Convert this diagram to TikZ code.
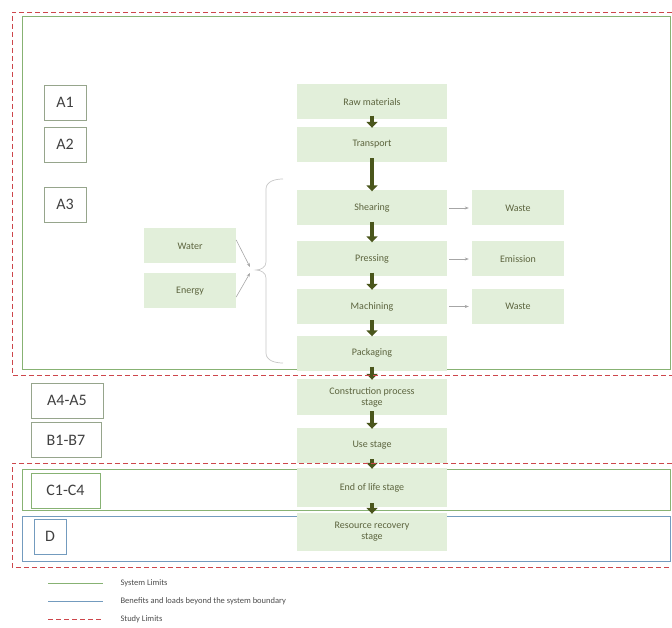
\documentclass[tikz,border=0pt]{standalone}
\usepackage{fontspec}
\setmainfont{Carlito}
\usetikzlibrary{arrows.meta}
\definecolor{boxfill}{RGB}{226,239,218}
\definecolor{boxtext}{RGB}{92,100,62}
\definecolor{flowcol}{RGB}{74,86,28}
\definecolor{syscol}{RGB}{135,178,115}
\definecolor{benefcol}{RGB}{115,155,190}
\definecolor{studycol}{RGB}{205,70,75}
\definecolor{tagcol}{RGB}{150,165,140}

\begin{document}
\begin{tikzpicture}[x=1pt, y=-1pt,
    stage/.style={fill=boxfill, text=boxtext, font=\fontsize{10}{11}\selectfont,
        minimum width=150pt, minimum height=35pt, align=center, inner sep=1pt},
    side/.style={stage, minimum width=92pt},
    tag/.style={draw=tagcol, line width=0.6pt, font=\fontsize{16}{18}\selectfont,
        text=black!75, minimum height=35pt, inner sep=3pt},
    flow/.style={draw=flowcol, line width=4pt, -{Triangle[width=11pt,length=6pt]}},
    sidearrow/.style={draw=gray!70, line width=0.6pt, -{Stealth[length=4pt]}},
    sysline/.style={draw=syscol, line width=0.8pt},
    benefline/.style={draw=benefcol, line width=0.8pt},
    studyline/.style={draw=studycol, line width=0.9pt, dash pattern=on 5pt off 3pt}]
    \useasboundingbox (0,0) rectangle (672,628);

    % system limits and beyond
    \draw[sysline] (22,16) rectangle (670,369);
    \draw[sysline] (22,469) rectangle (670,510);
    \draw[benefline] (22,516) rectangle (670,561);

    % brace
    \draw[gray!45, line width=0.7pt] (283,179) to[out=180,in=90] (266,189) -- (266,262)
        to[out=-90,in=0] (256,270) to[out=0,in=90] (266,278) -- (266,353)
        to[out=-90,in=180] (283,363);
    \coordinate (inW) at (250,267);
    \coordinate (inE) at (250,273);

    % stages
    \node(raw)[stage] at (372,102) {Raw materials};
    \node(trans)[stage] at (372,144.5) {Transport};
    \node(shear)[stage] at (372,208) {Shearing};
    \node(press)[stage] at (372,259) {Pressing};
    \node(mach)[stage] at (372,306.5) {Machining};
    \node(pack)[stage] at (372,353) {Packaging};
    \node(cons)[stage, minimum height=36pt] at (372,397) {Construction process\\stage};
    \node(use)[stage] at (372,445.5) {Use stage};
    \node(eol)[stage, minimum height=39pt] at (372,487.5) {End of life stage};
    \node(rec)[stage, minimum height=38pt] at (372,532) {Resource recovery\\stage};

    \node(waste1)[side] at (518,208) {Waste};
    \node(emis)[side] at (518,259) {Emission};
    \node(waste2)[side] at (518,306.5) {Waste};
    \node(water)[side] at (190,246) {Water};
    \node(energy)[side] at (190,291) {Energy};

    % module tags
    \node(a1)[tag, minimum width=42pt] at (65,102.5) {A1};
    \node(a2)[tag, minimum width=42pt] at (65,144.5) {A2};
    \node(a3)[tag, minimum width=42pt] at (65,204.5) {A3};
    \node(a45)[tag, minimum width=72pt] at (67,400.5) {A4-A5};
    \node(b17)[tag, minimum width=70pt] at (66,440) {B1-B7};
    \node(c14)[tag, draw=syscol, minimum width=69pt] at (65.5,490.5) {C1-C4};
    \node(d)[tag, draw=benefcol, minimum width=32pt] at (50,536.5) {D};

    % flow
    \draw[flow] ([yshift=4pt]raw.south) -- ([yshift=-1pt]trans.north);
    \draw[flow] ([yshift=4pt]trans.south) -- ([yshift=-1pt]shear.north);
    \draw[flow] ([yshift=4pt]shear.south) -- ([yshift=-1pt]press.north);
    \draw[flow] ([yshift=4pt]press.south) -- ([yshift=-1pt]mach.north);
    \draw[flow] ([yshift=4pt]mach.south) -- ([yshift=-1pt]pack.north);
    \draw[flow] ([yshift=4pt]pack.south) -- ([yshift=-1pt]cons.north);
    \draw[flow] ([yshift=4pt]cons.south) -- ([yshift=-1pt]use.north);
    \draw[flow] ([yshift=4pt]use.south) -- ([yshift=-1pt]eol.north);
    \draw[flow] ([yshift=4pt]eol.south) -- ([yshift=-1pt]rec.north);

    \draw[sidearrow] ([xshift=2pt]shear.east) -- ([xshift=-3pt]waste1.west);
    \draw[sidearrow] ([xshift=2pt]press.east) -- ([xshift=-3pt]emis.west);
    \draw[sidearrow] ([xshift=2pt]mach.east) -- ([xshift=-3pt]waste2.west);
    \draw[sidearrow] ([yshift=6pt]water.east) -- (inW);
    \draw[sidearrow] ([yshift=-6pt]energy.east) -- (inE);

    % study limits
    \draw[studyline] (672,12) -- (12,12) -- (12,375) -- (672,375);
    \draw[studyline] (672,463) -- (12,463) -- (12,567) -- (672,567);

    % legend
    \coordinate(l1a) at (48,583); \coordinate(l1b) at (103,583);
    \coordinate(l2a) at (48,601); \coordinate(l2b) at (103,601);
    \coordinate(l3a) at (48,619); \coordinate(l3b) at (103,619);
    \draw[sysline] (l1a) -- (l1b);
    \draw[benefline] (l2a) -- (l2b);
    \draw[studyline] (l3a) -- (l3b);
    \node(t1)[anchor=west, font=\fontsize{8.5}{9}\selectfont, text=black!70] at (117,583) {System Limits};
    \node(t2)[anchor=west, font=\fontsize{8.5}{9}\selectfont, text=black!70] at (117,601) {Benefits and loads beyond the system boundary};
    \node(t3)[anchor=west, font=\fontsize{8.5}{9}\selectfont, text=black!70] at (117,619) {Study Limits};
\end{tikzpicture}
\end{document}
